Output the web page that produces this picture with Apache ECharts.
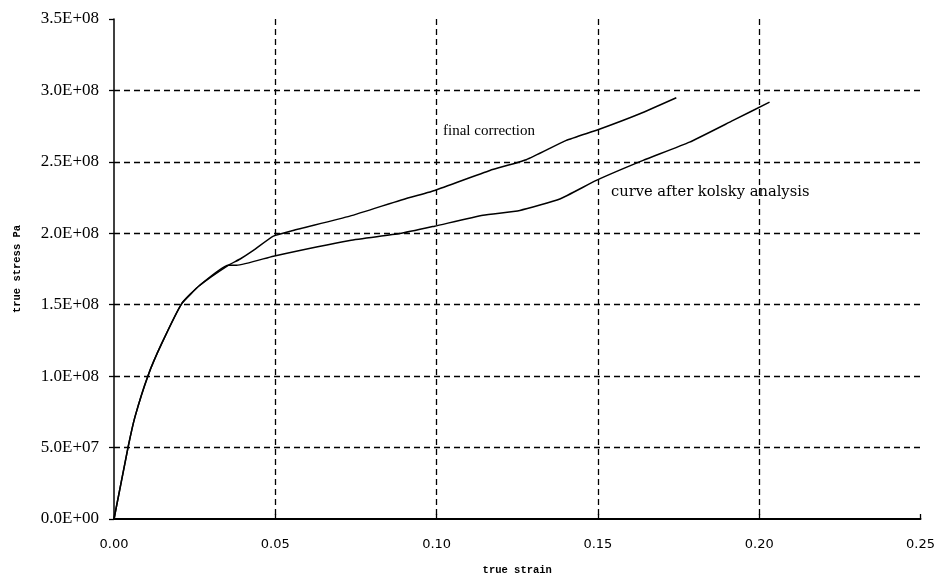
<!DOCTYPE html>
<html>
<head>
<meta charset="utf-8">
<script src="https://cdn.jsdelivr.net/npm/echarts@6/dist/echarts.min.js"></script>
<style>
  html, body { margin: 0; padding: 0; background: #fff; }
  #chart { width: 938px; height: 582px; }
</style>
</head>
<body>
<div id="chart"></div>
<script>
// True strain / true stress (Pa) for the two processed curves
const finalStrain = [0, 0.0044, 0.0065, 0.0106, 0.0148, 0.021, 0.0266, 0.0354, 0.0391, 0.0432, 0.0494, 0.0555, 0.0731, 0.0886, 0.0994, 0.1165, 0.1278, 0.1402, 0.150, 0.163, 0.1743];
const finalStress = [0, 50.6e6, 71.5e6, 100.7e6, 122.9e6, 150.8e6, 163.6e6, 177.6e6, 182e6, 188e6, 198e6, 202e6, 212e6, 223e6, 230e6, 244e6, 251.5e6, 265e6, 272.5e6, 283.7e6, 294.9e6];

const kolskyStrain = [0, 0.0044, 0.0065, 0.0106, 0.0148, 0.021, 0.0266, 0.0354, 0.038, 0.0494, 0.0731, 0.0886, 0.0994, 0.1144, 0.1258, 0.1382, 0.1495, 0.164, 0.1784, 0.1919, 0.2032];
const kolskyStress = [0, 50.6e6, 71.5e6, 100.7e6, 122.9e6, 150.8e6, 163.6e6, 177.6e6, 177.6e6, 184e6, 195e6, 199.8e6, 205e6, 212.6e6, 216e6, 224e6, 237e6, 251e6, 263.8e6, 279e6, 291.8e6];

const xTicks = [0, 0.05, 0.10, 0.15, 0.20, 0.25];
const yTicks = [0, 0.5e8, 1.0e8, 1.5e8, 2.0e8, 2.5e8, 3.0e8, 3.5e8];

const seriesNames = ['final correction', 'curve after kolsky analysis'];

function pairs(xs, ys) { return xs.map((x, i) => [x, ys[i]]); }

// Scientific notation with a two-digit exponent, e.g. 2.5E+08
function sci(v) {
  if (v === 0) return '0.0E+00';
  const e = Math.floor(Math.log10(Math.abs(v)) + 1e-9);
  const m = v / Math.pow(10, e);
  const es = (e < 0 ? '-' : '+') + String(Math.abs(e)).padStart(2, '0');
  return m.toFixed(1) + 'E' + es;
}

const serif = 'Liberation Serif';
const mono = 'Liberation Mono';
const chart = echarts.init(document.getElementById('chart'), null, { renderer: 'canvas' });

const gridDash = { color: '#000', width: 1.3, type: [6, 4] };

const curveStyle = {
  type: 'line',
  showSymbol: false,
  smooth: 0.15,
  lineStyle: { color: '#000', width: 1.5, join: 'round' },
  z: 5
};

chart.setOption({
  backgroundColor: '#fff',
  animation: false,
  grid: { left: 114, right: 17, top: 19, bottom: 63, containLabel: false },
  xAxis: {
    type: 'value',
    min: xTicks[0],
    max: xTicks[xTicks.length - 1],
    interval: 0.05,
    name: 'true strain',
    nameLocation: 'middle',
    nameGap: 46,
    nameTextStyle: { fontFamily: mono, fontSize: 10.5, fontWeight: 'bold', color: '#000' },
    axisLine: { lineStyle: { color: '#000', width: 2 } },
    axisTick: { show: true, inside: true, length: 5, lineStyle: { color: '#000', width: 1.3 } },
    axisLabel: { fontFamily: 'DejaVu Sans', fontSize: 13, color: '#000', margin: 19,
      formatter: v => v.toFixed(2) },
    splitLine: { show: true, showMinLine: false, showMaxLine: false, lineStyle: gridDash }
  },
  yAxis: {
    type: 'value',
    min: yTicks[0],
    max: yTicks[yTicks.length - 1],
    interval: 0.5e8,
    name: 'true stress Pa',
    nameLocation: 'middle',
    nameGap: 91,
    nameRotate: 90,
    nameTextStyle: { fontFamily: mono, fontSize: 10.5, fontWeight: 'bold', color: '#000' },
    axisLine: { show: true, lineStyle: { color: '#000', width: 1.5 } },
    axisTick: { show: true, length: 5, lineStyle: { color: '#000', width: 1.3 } },
    axisLabel: { fontFamily: serif, fontSize: 17, color: '#000', margin: 15, formatter: sci },
    splitLine: { show: true, showMinLine: false, showMaxLine: false, lineStyle: gridDash }
  },
  series: [
    Object.assign({ name: seriesNames[0], data: pairs(finalStrain, finalStress) }, curveStyle),
    Object.assign({ name: seriesNames[1], data: pairs(kolskyStrain, kolskyStress) }, curveStyle)
  ],
  graphic: [
    { type: 'text', left: 443, top: 124,
      style: { text: seriesNames[0], font: '15px "Liberation Serif"', fill: '#000' } },
    { type: 'text', left: 611, top: 185,
      style: { text: seriesNames[1], font: '14.7px "DejaVu Serif"', fill: '#000' } }
  ]
});
</script>
</body>
</html>
